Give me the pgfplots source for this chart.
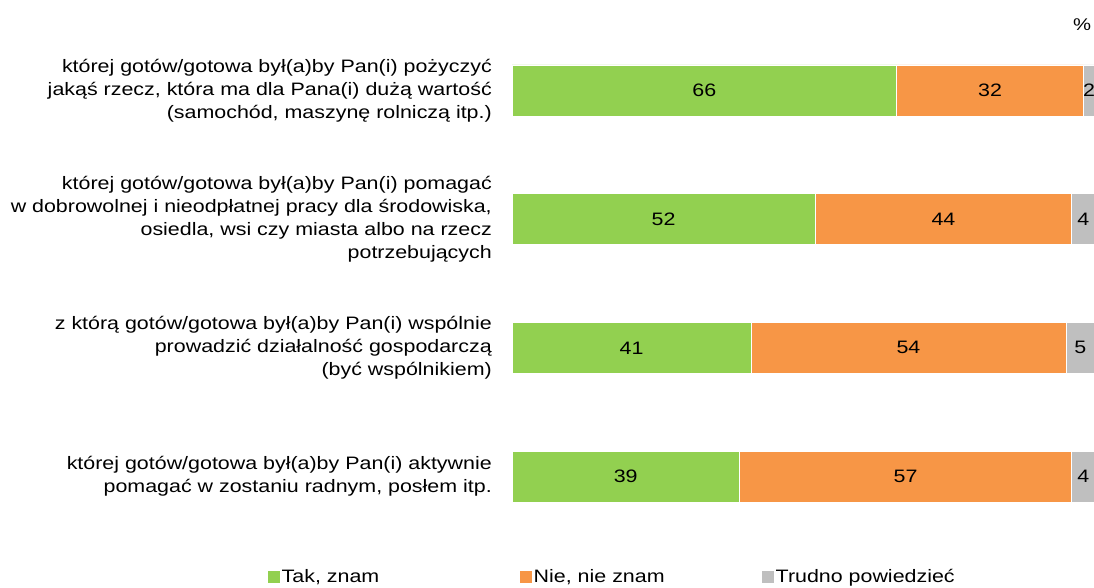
\documentclass[border=0pt]{standalone}
\usepackage{pgfplots}
\pgfplotsset{compat=1.18}
\usepackage{fontspec}
\setmainfont[FakeStretch=1.19]{Liberation Sans}
\definecolor{cgreen}{HTML}{92D050}
\definecolor{corange}{HTML}{F79646}
\definecolor{cgray}{HTML}{BFBFBF}
\begin{document}
\begin{tikzpicture}[x=1pt,y=1pt]
\useasboundingbox (0,0) rectangle (1094,588);
\begin{axis}[
  at={(512pt,47pt)}, anchor=south west,
  width=583pt, height=515pt, scale only axis,
  xbar stacked, bar width=51pt,
  xmin=0, xmax=100, ymin=-0.5, ymax=3.5, y dir=reverse,
  clip=false,
  /pgf/number format/assume math mode=true,
  axis line style={draw=none},
  major tick length=0pt,
  xtick=\empty,
  ytick={0,1,2,3},
  yticklabels={
    {której gotów/gotowa był(a)by Pan(i) pożyczyć\\jakąś rzecz, która ma dla Pana(i) dużą wartość\\(samochód, maszynę rolniczą itp.)},
    {której gotów/gotowa był(a)by Pan(i) pomagać\\w dobrowolnej i nieodpłatnej pracy dla środowiska,\\osiedla, wsi czy miasta albo na rzecz\\potrzebujących},
    {z którą gotów/gotowa był(a)by Pan(i) wspólnie\\prowadzić działalność gospodarczą\\(być wspólnikiem)},
    {której gotów/gotowa był(a)by Pan(i) aktywnie\\pomagać w zostaniu radnym, posłem itp.}
  },
  yticklabel style={align=right, inner sep=0pt, xshift=-20pt,
    font=\fontsize{18}{23}\selectfont},
  nodes near coords,
  every node near coord/.append style={anchor=center,
    font=\fontsize{18}{20}\selectfont, text=black},
  legend columns=3,
  legend style={at={(-0.4185,-0.0699)}, anchor=west, draw=none, fill=none,
    inner sep=0pt, column sep=0pt,
    font=\fontsize{18}{20}\selectfont,
    nodes={inner sep=1.5pt}},
  legend image code/.code={\fill[#1,draw=none] (0pt,-6pt) rectangle (12pt,6pt);},
]
\addplot[fill=cgreen, draw=white, line width=0.6pt] coordinates {(66,0) (52,1) (41,2) (39,3)};
\addplot[fill=corange, draw=white, line width=0.6pt] coordinates {(32,0) (44,1) (54,2) (57,3)};
\addplot[fill=cgray, draw=white, line width=0.6pt] coordinates {(2,0) (4,1) (5,2) (4,3)};
\addlegendentry{\makebox[237pt][l]{Tak, znam}}
\addlegendentry{\makebox[227pt][l]{Nie, nie znam}}
\addlegendentry{Trudno powiedzieć}
\end{axis}
\node[anchor=center, font=\fontsize{17}{20}\selectfont] at (1082,563) {\%};
\end{tikzpicture}
\end{document}
